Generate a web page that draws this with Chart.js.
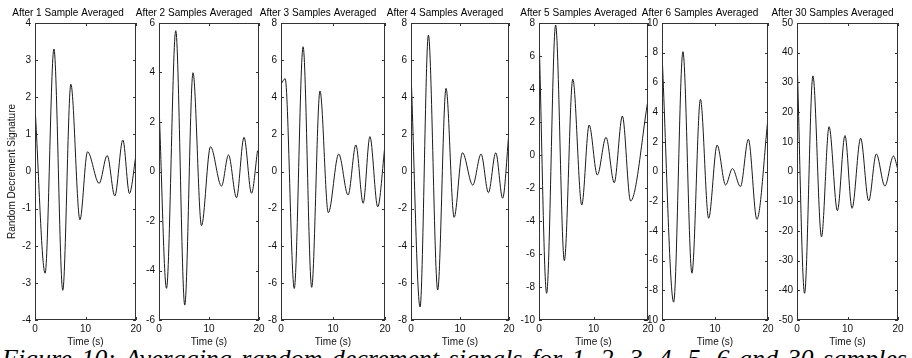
<!DOCTYPE html>
<html>
<head>
<meta charset="utf-8">
<script src="https://cdn.jsdelivr.net/npm/chart.js@4.4.1/dist/chart.umd.min.js"></script>
<style>
    body { margin: 0; background: #fff; width: 912px; height: 358px; overflow: hidden; position: relative; }
    canvas.panel { position: absolute; top: 0; }
    #keterangan {
        position: absolute; left: 2px; top: 344px;
        font: italic 26px "Liberation Serif", "Times New Roman", serif;
        word-spacing: 3px;
        color: #000; white-space: nowrap;
    }
</style>
</head>
<body>
<div id="keterangan">Figure 10: Averaging random decrement signals for 1, 2, 3, 4, 5, 6 and 30 samples</div>
<script>
// Judul tiap panel
const judul = [
    "After 1 Sample Averaged", "After 2 Samples Averaged", "After 3 Samples Averaged",
    "After 4 Samples Averaged", "After 5 Samples Averaged", "After 6 Samples Averaged",
    "After 30 Samples Averaged"
];

// Data sinyal (waktu dalam detik, nilai signature)
const waktu1 = [0, 2.0, 3.75, 5.5, 7.1, 8.9, 10.4, 12.7, 14.3, 15.8, 17.4, 18.7, 20];
const nilai1 = [1.75, -2.74, 3.3, -3.2, 2.35, -1.3, 0.53, -0.32, 0.43, -0.66, 0.85, -0.59, 0.45];

const waktu2 = [0, 1.5, 3.35, 5.15, 6.8, 8.5, 10.3, 12.5, 13.9, 15.5, 17.0, 18.5, 19.7];
const nilai2 = [2.7, -4.72, 5.69, -5.4, 3.99, -2.19, 1.0, -0.59, 0.67, -1.06, 1.38, -0.88, 0.84];

const waktu3 = [0, 0.8, 2.55, 4.25, 5.9, 7.5, 9.1, 11.1, 12.9, 14.4, 15.8, 17.1, 18.6, 20];
const nilai3 = [4.7, 5.0, -6.3, 6.72, -6.24, 4.34, -2.22, 0.94, -1.27, 1.43, -1.71, 1.88, -1.9, 1.43];

const waktu4 = [0, 1.85, 3.55, 5.45, 7.15, 8.8, 10.5, 12.6, 14.3, 15.8, 17.3, 18.7, 20];
const nilai4 = [5.38, -7.3, 7.35, -6.38, 4.48, -2.47, 1.01, -0.73, 0.94, -1.14, 1.01, -1.44, 2.14];

const waktu5 = [0, 1.4, 3.05, 4.65, 6.2, 7.85, 9.2, 10.7, 12.3, 13.8, 15.3, 16.8, 20];
const nilai5 = [7.37, -8.38, 7.88, -6.4, 4.6, -3.03, 1.82, -1.21, 1.07, -1.68, 2.36, -2.79, 3.33];

const waktu6 = [0, 2.2, 3.95, 5.65, 7.25, 8.8, 10.4, 12.0, 13.3, 14.8, 16.3, 17.9, 20];
const nilai6 = [7.96, -8.8, 8.07, -6.85, 4.86, -3.15, 1.78, -0.91, 0.2, -1.02, 2.17, -3.22, 3.6];

const waktu7 = [0, 1.5, 3.15, 4.85, 6.35, 8.0, 9.5, 10.9, 12.6, 14.2, 15.7, 17.4, 19.1, 20];
const nilai7 = [39, -41, 32.2, -22, 15.1, -13.2, 12.1, -12.4, 11.2, -9.9, 5.9, -4.9, 5.2, 0.5];

// Batas sumbu Y dan jarak tick
const minY = [-4, -6, -8, -8, -10, -10, -50];
const maxY = [4, 6, 8, 8, 8, 10, 50];
const langkahY = [1, 2, 2, 2, 2, 2, 10];
// Sumbu X (waktu)
const minX = 0, maxX = 20, langkahX = 10;

const semuaWaktu = [waktu1, waktu2, waktu3, waktu4, waktu5, waktu6, waktu7];
const semuaNilai = [nilai1, nilai2, nilai3, nilai4, nilai5, nilai6, nilai7];

// Posisi kotak plot di halaman (kiri, kanan) - hanya tata letak
const kotakPlot = [[35, 136], [159, 259], [281, 385], [411, 509], [539, 648], [662, 768], [797, 898]];

const hurufSumbu = { family: "'Liberation Sans', Arial, sans-serif", size: 10 };

// Plugin untuk kotak bingkai dan tick ke arah dalam (gaya MATLAB)
const bingkai = {
    id: 'bingkai',
    afterDraw(chart) {
        const { ctx, chartArea: a, scales: { x, y } } = chart;
        const pjg = 3;
        ctx.save();
        ctx.strokeStyle = '#333';
        ctx.lineWidth = 1;
        ctx.strokeRect(a.left + 0.5, a.top + 0.5, a.width - 1, a.height - 1);
        ctx.beginPath();
        x.ticks.forEach((t) => {
            const px = Math.round(x.getPixelForValue(t.value)) + 0.5;
            ctx.moveTo(px, a.bottom); ctx.lineTo(px, a.bottom - pjg);
            ctx.moveTo(px, a.top); ctx.lineTo(px, a.top + pjg);
        });
        y.ticks.forEach((t) => {
            const py = Math.round(y.getPixelForValue(t.value)) + 0.5;
            ctx.moveTo(a.left, py); ctx.lineTo(a.left + pjg, py);
            ctx.moveTo(a.right, py); ctx.lineTo(a.right - pjg, py);
        });
        ctx.stroke();
        ctx.restore();
    }
};

// Buat satu panel grafik
function buatPanel(i) {
    const [kiri, kanan] = kotakPlot[i];
    const lebarY = i === 0 ? 35 : 30;
    const canvas = document.createElement("canvas");
    canvas.className = "panel";
    canvas.width = (kanan - kiri) + 2 * lebarY;
    canvas.height = 350;
    canvas.style.left = (kiri - lebarY) + "px";
    document.body.appendChild(canvas);

    const titik = semuaWaktu[i].map((t, k) => ({ x: t, y: semuaNilai[i][k] }));

    new Chart(canvas.getContext("2d"), {
        type: 'line',
        data: {
            datasets: [{
                data: titik,
                borderColor: '#1a1a1a',
                borderWidth: 1,
                pointRadius: 0,
                cubicInterpolationMode: 'monotone',
                fill: false
            }]
        },
        options: {
            responsive: false,
            animation: false,
            layout: { padding: { left: 0, right: lebarY, top: 0, bottom: 0 } },
            plugins: {
                legend: { display: false },
                tooltip: { enabled: false },
                title: {
                    display: true,
                    text: judul[i],
                    color: '#000',
                    font: { ...hurufSumbu, weight: 'normal' },
                    padding: { top: 7.5, bottom: 3.5 }
                }
            },
            scales: {
                x: {
                    type: 'linear',
                    min: minX, max: maxX,
                    grid: { display: false, drawTicks: false },
                    border: { display: false },
                    ticks: { stepSize: langkahX, color: '#111', font: hurufSumbu, padding: 3, maxRotation: 0 },
                    title: { display: true, text: 'Time (s)', color: '#111', font: hurufSumbu, padding: { top: 0, bottom: 2 } },
                    afterFit(s) { s.height = 30; }
                },
                y: {
                    min: minY[i], max: maxY[i],
                    grid: { display: false, drawTicks: false },
                    border: { display: false },
                    ticks: { stepSize: langkahY[i], color: '#111', font: hurufSumbu, padding: 4 },
                    title: {
                        display: i === 0,
                        text: 'Random Decrement Signature',
                        color: '#111', font: hurufSumbu,
                        padding: { top: 6, bottom: 0 }
                    },
                    afterFit(s) { s.width = lebarY; }
                }
            }
        },
        plugins: [bingkai]
    });
}

for (let i = 0; i < judul.length; i++) {
    buatPanel(i);
}
</script>
</body>
</html>
